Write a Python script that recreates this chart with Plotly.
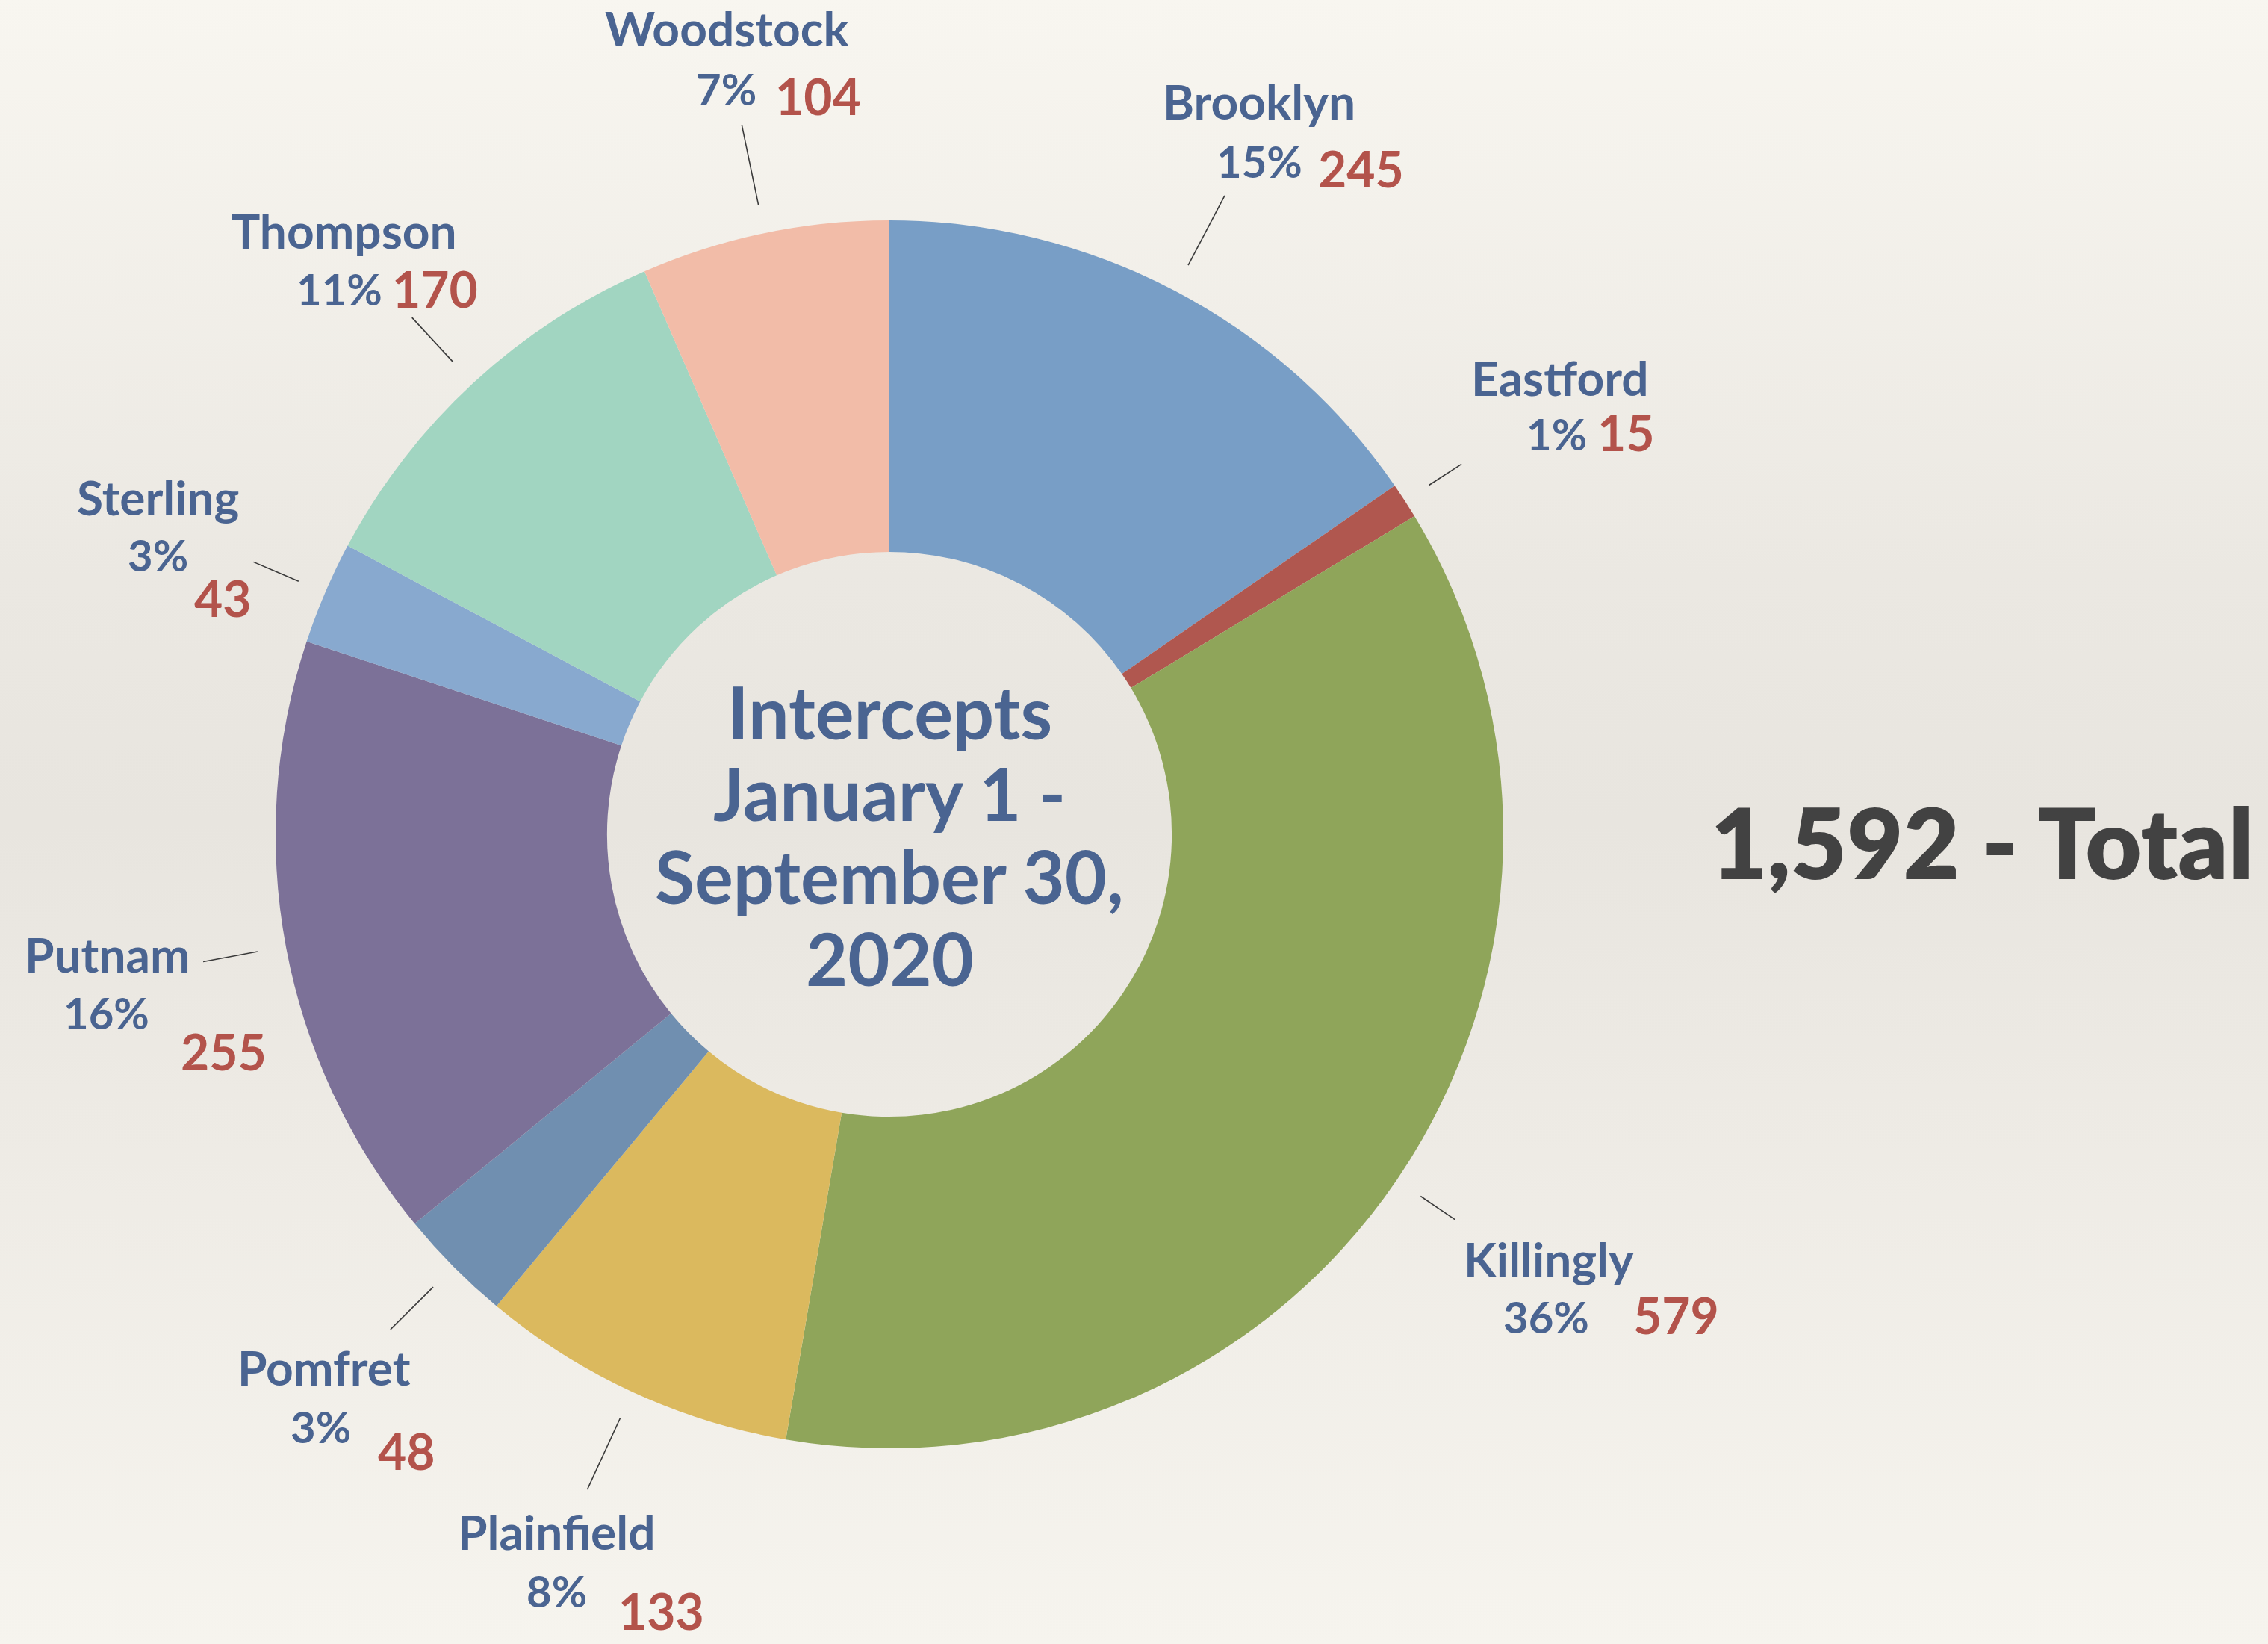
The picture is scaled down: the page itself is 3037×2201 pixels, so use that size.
import math
import plotly.graph_objects as go

# ---------------- data ----------------
towns = ["Brooklyn", "Eastford", "Killingly", "Plainfield", "Pomfret",
         "Putnam", "Sterling", "Thompson", "Woodstock"]
counts = [245, 15, 579, 133, 48, 255, 43, 170, 104]
slice_colors = ["#789ec6", "#b0574f", "#8fa55a", "#dbb95e", "#708fb0",
                "#7c7198", "#88a9cf", "#a1d5c1", "#f2bca8"]
center_lines = ["Intercepts", "January 1 -", "September 30,", "2020"]
total_suffix = " - Total"

# ---------------- layout / style ----------------
W, H = 3037, 2201
CX, CY, R = 1191, 1117, 822          # donut centre & outer radius (px)
HOLE = 0.46
S = W / 1568.0                         # style offsets given at preview scale

BLUE = "#4a6491"
RED = "#b3534b"
DARK = "#424242"
FONT = "Lato"

leader_in = 1.047
leader_out = {"Brooklyn": 1.175, "Eastford": 1.11, "Killingly": 1.115,
              "Plainfield": 1.175, "Pomfret": 1.145, "Putnam": 1.137,
              "Sterling": 1.127, "Thompson": 1.146, "Woodstock": 1.18}
# offsets (name, pct, value) from leader-line outer end, preview px
label_off = {
    "Woodstock": ((-10, -67), (-11, -25), (53, -20)),
    "Brooklyn": ((24, -65), (24, -24), (94, -19)),
    "Eastford": ((68, -60), (66, -21), (114, -22)),
    "Killingly": ((65, 27), (63, 67), (153, 66)),
    "Plainfield": ((-21, 29), (-21, 70), (51, 84)),
    "Pomfret": ((-46, 26), (-48, 67), (11, 84)),
    "Putnam": ((-66, -5), (-67, 35), (14, 62)),
    "Sterling": ((-66, -45), (-66, -5), (-21, 25)),
    "Thompson": ((-47, -60), (-50, -20), (16, -20)),
}


def paper(x, y):
    return x / W, 1 - y / H


fig = go.Figure()

# background paper gradient
fig.add_trace(go.Scatter(
    x=[0, 1, 1, 0, 0], y=[0, 0, 1, 1, 0], mode="none", fill="toself",
    fillgradient=dict(type="vertical",
                      colorscale=[[0, "#f6f4ee"], [0.3, "#eeebe5"],
                                  [0.5, "#e8e5df"], [0.65, "#ebe8e2"],
                                  [1, "#f8f6f0"]]),
    hoverinfo="skip", showlegend=False))

fig.add_trace(go.Pie(
    labels=towns, values=counts, sort=False, direction="clockwise",
    rotation=0, hole=HOLE, textinfo="none",
    marker=dict(colors=slice_colors, line=dict(width=0)),
    domain=dict(x=[(CX - R) / W, (CX + R) / W],
                y=[(H - CY - R) / H, (H - CY + R) / H]),
    showlegend=False))

total = sum(counts)
shapes = []
annotations = []
cum = 0
for town, v in zip(towns, counts):
    theta = 2 * math.pi * (cum + v / 2) / total
    cum += v
    ux, uy = math.sin(theta), -math.cos(theta)
    x1, y1 = CX + leader_in * R * ux, CY + leader_in * R * uy
    ro = leader_out[town]
    x2, y2 = CX + ro * R * ux, CY + ro * R * uy
    a0, b0 = paper(x1, y1)
    a1, b1 = paper(x2, y2)
    shapes.append(dict(type="line", xref="paper", yref="paper",
                       x0=a0, y0=b0, x1=a1, y1=b1,
                       line=dict(color="#3a3a3a", width=1.6)))
    pct = round(v / total * 100)
    (nx, ny), (px_, py_), (vx, vy) = label_off[town]
    for (ox, oy), txt, col, size, wt in [
        ((nx, ny), town, BLUE, 64, 700),
        ((px_, py_), f"{pct}%", BLUE, 58, 700),
        ((vx, vy), f"{v}", RED, 66, 700),
    ]:
        ax_, ay_ = paper(x2 + ox * S, y2 + oy * S)
        annotations.append(dict(
            x=ax_, y=ay_, xref="paper", yref="paper", text=txt,
            showarrow=False, xanchor="center", yanchor="middle",
            font=dict(family=FONT, size=size, color=col, weight=wt)))

# centre text
line_gap = 110
for i, t in enumerate(center_lines):
    yy = CY + (i - (len(center_lines) - 1) / 2) * line_gap
    ax_, ay_ = paper(CX, yy)
    annotations.append(dict(
        x=ax_, y=ay_, xref="paper", yref="paper", text=t, showarrow=False,
        xanchor="center", yanchor="middle",
        font=dict(family=FONT, size=97, color=BLUE, weight=700)))

# total
tx, ty = paper(2654, 1127)
annotations.append(dict(
    x=tx, y=ty, xref="paper", yref="paper",
    text=f"{total:,}{total_suffix}", showarrow=False,
    xanchor="center", yanchor="middle",
    font=dict(family=FONT, size=130, color=DARK, weight=800)))

fig.update_layout(
    width=W, height=H, margin=dict(l=0, r=0, t=0, b=0, pad=0),
    paper_bgcolor="#efece6", plot_bgcolor="rgba(0,0,0,0)",
    xaxis=dict(range=[0, 1], visible=False, fixedrange=True, domain=[0, 1]),
    yaxis=dict(range=[0, 1], visible=False, fixedrange=True, domain=[0, 1]),
    shapes=shapes, annotations=annotations, showlegend=False)

fig.write_html("out.html", config={"displayModeBar": False})
